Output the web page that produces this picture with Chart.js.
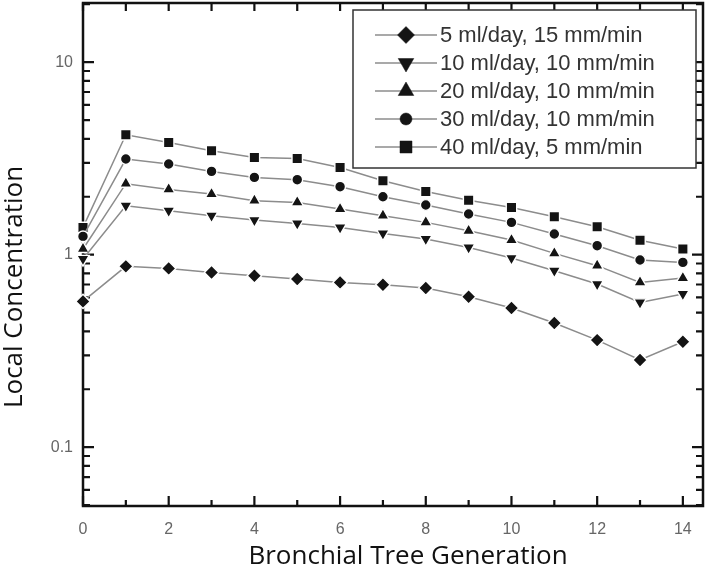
<!DOCTYPE html>
<html><head><meta charset="utf-8">
<script src="https://cdn.jsdelivr.net/npm/chart.js@4/dist/chart.umd.min.js"></script>
<style>html,body{margin:0;padding:0;background:#fff}</style>
</head><body>
<canvas id="c" width="708" height="575"></canvas>
<script>
// ---- data ----
const generations = [0,1,2,3,4,5,6,7,8,9,10,11,12,13,14];
const seriesLabels = ["5 ml/day, 15 mm/min","10 ml/day, 10 mm/min","20 ml/day, 10 mm/min","30 ml/day, 10 mm/min","40 ml/day, 5 mm/min"];
const conc5ml  = [0.572,0.870,0.849,0.809,0.778,0.748,0.718,0.698,0.671,0.605,0.529,0.442,0.360,0.284,0.353];
const conc10ml = [0.950,1.797,1.693,1.594,1.514,1.454,1.386,1.290,1.207,1.091,0.961,0.826,0.704,0.565,0.625];
const conc20ml = [1.071,2.338,2.184,2.067,1.908,1.869,1.727,1.594,1.472,1.332,1.192,1.016,0.877,0.718,0.757];
const conc30ml = [1.245,3.14,2.958,2.708,2.521,2.453,2.256,2.001,1.812,1.627,1.472,1.281,1.114,0.939,0.912];
const conc40ml = [1.386,4.20,3.83,3.47,3.20,3.16,2.84,2.42,2.13,1.92,1.76,1.575,1.398,1.19,1.07];
const xTickValues = [0,2,4,6,8,10,12,14];
const yTickValues = [0.1,1,10];
const xTitle = "Bronchial Tree Generation";
const yTitle = "Local Concentration";

// ---- styles ----
const markerStyles = [
  {style:'rectRot', rot:0, r:7.2, lr:8.5},
  {style:'triangle', rot:180, r:7.2, lr:9},
  {style:'triangle', rot:0, r:7.2, lr:9},
  {style:'circle', rot:0, r:5.4, lr:6},
  {style:'rect', rot:0, r:7.4, lr:8.5}
];
const seriesValues = [conc5ml, conc10ml, conc20ml, conc30ml, conc40ml];
const LINE = '#8c8c8c', MARK = '#141414';

const datasets = seriesValues.map((vals,i)=>({
  label: seriesLabels[i],
  data: generations.map((g,j)=>({x:g,y:vals[j]})),
  borderColor: LINE, borderWidth: 1.5, tension: 0,
  pointStyle: markerStyles[i].style, pointRotation: markerStyles[i].rot,
  pointRadius: markerStyles[i].r, pointBackgroundColor: MARK, pointBorderColor: '#ffffff',
  pointBorderWidth: 1.4, clip: false
}));

const zeroPad = s => { s.paddingTop = 0; s.paddingBottom = 0; s.paddingLeft = 0; s.paddingRight = 0; };

const framePlugin = {
  id:'frame',
  beforeDatasetsDraw(chart){
    const ctx = chart.ctx, a = chart.chartArea;
    const xs = chart.scales.x, ys = chart.scales.y;
    ctx.save();
    ctx.strokeStyle = '#111'; ctx.lineWidth = 2.5;
    ctx.strokeRect(a.left, a.top, a.right-a.left, a.bottom-a.top);
    ctx.lineWidth = 2.2;
    ctx.beginPath();
    for (let g = 0; g <= 14; g++) {
      const px = xs.getPixelForValue(g);
      const major = g % 2 === 0;
      ctx.moveTo(px, a.bottom); ctx.lineTo(px, a.bottom - (major ? 10 : 6));
      ctx.moveTo(px, a.top); ctx.lineTo(px, a.top + 8);
    }
    for (let e = -2; e <= 1; e++) {
      for (let m = 1; m <= 9; m++) {
        const v = m * Math.pow(10, e);
        if (v < ys.min || v > ys.max) continue;
        const py = ys.getPixelForValue(v);
        const len = m === 1 ? 11 : 7;
        ctx.moveTo(a.left, py); ctx.lineTo(a.left + len, py);
        ctx.moveTo(a.right, py); ctx.lineTo(a.right - len, py);
      }
    }
    ctx.stroke();
    ctx.restore();
  },
  afterDraw(chart){
    const ctx = chart.ctx;
    ctx.save();
    const bx = 353, by = 10, bw = 343, bh = 158;
    ctx.fillStyle = '#fff'; ctx.fillRect(bx, by, bw, bh);
    ctx.strokeStyle = '#333'; ctx.lineWidth = 1.5; ctx.strokeRect(bx, by, bw, bh);
    chart.data.datasets.forEach((ds,i)=>{
      const y = 35 + i*28;
      ctx.strokeStyle = LINE; ctx.lineWidth = 1.5;
      ctx.beginPath(); ctx.moveTo(375,y); ctx.lineTo(437,y); ctx.stroke();
      ctx.fillStyle = MARK; ctx.strokeStyle = MARK; ctx.lineWidth = 0.5;
      Chart.helpers.drawPoint(ctx, {pointStyle: markerStyles[i].style, rotation: markerStyles[i].rot, radius: markerStyles[i].lr, borderWidth: 0.5}, 406, y);
      ctx.fillStyle = '#333';
      ctx.font = '22px "Liberation Sans", Arial, sans-serif';
      ctx.textAlign = 'left'; ctx.textBaseline = 'middle';
      ctx.fillText(ds.label, 440, y + 1);
    });
    ctx.fillStyle = '#111';
    ctx.font = '26px "Open Sans", sans-serif';
    ctx.textAlign = 'center'; ctx.textBaseline = 'middle';
    ctx.fillText(xTitle, 408, 557);
    ctx.translate(15, 287); ctx.rotate(-Math.PI/2);
    ctx.fillText(yTitle, 0, 0);
    ctx.restore();
  }
};

new Chart(document.getElementById('c'), {
  type: 'line',
  data: { datasets },
  options: {
    responsive: false, animation: false,
    layout: { autoPadding: false, padding: { top: 3, right: 5, left: 0, bottom: 0 } },
    plugins: { legend: { display: false }, tooltip: { enabled: false } },
    scales: {
      x: {
        type: 'linear', min: 0, max: 14.47, position: 'bottom',
        afterBuildTicks: s => { s.ticks = xTickValues.map(v => ({ value: v })); },
        afterFit: s => { s.height = 69; zeroPad(s); },
        grid: { display: false, drawTicks: false },
        border: { display: false },
        ticks: { padding: 14, color: '#666', font: { family: '"Liberation Sans", Arial, sans-serif', size: 16 } }
      },
      y: {
        type: 'logarithmic', min: 0.0495, max: 20.3, position: 'left',
        afterBuildTicks: s => { s.ticks = yTickValues.map(v => ({ value: v })); },
        afterFit: s => { s.width = 83; zeroPad(s); },
        grid: { display: false, drawTicks: false },
        border: { display: false },
        ticks: { padding: 10, color: '#666', font: { family: '"Liberation Sans", Arial, sans-serif', size: 16 },
                 callback: v => String(v) }
      }
    }
  },
  plugins: [framePlugin]
});
</script>
</body></html>
